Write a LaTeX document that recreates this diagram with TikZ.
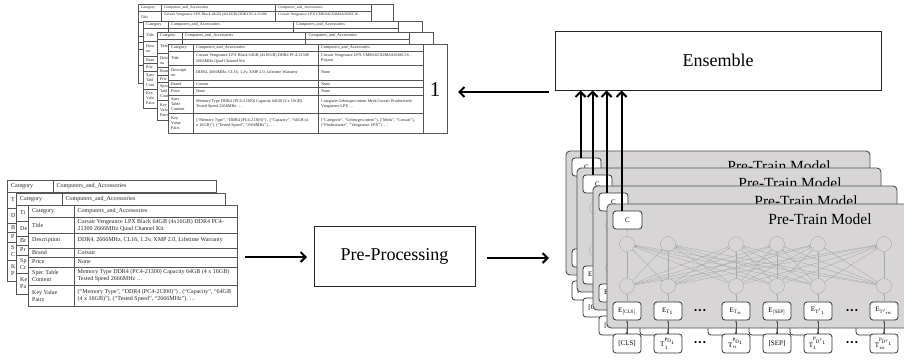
\documentclass[tikz,border=0pt]{standalone}
\usepackage{fontspec}
\setmainfont{Liberation Serif}
\usetikzlibrary{arrows.meta}
\definecolor{panelgray}{HTML}{D8D5D7}
\definecolor{edgegray}{HTML}{4D4D4D}
\definecolor{rulegray}{HTML}{555555}
\definecolor{netgray}{HTML}{A9A9A9}
\tikzset{
  tabrule/.style={draw=rulegray, line width=0.5pt},
  tt/.style={anchor=west, align=left, inner sep=0pt, font=\fontsize{4.2}{5.1}\selectfont, text=black!85, transform shape},
  bt/.style={anchor=west, align=left, inner sep=0pt, font=\fontsize{6}{7}\selectfont, text=black!85},
  bigbox/.style={draw=black!85, line width=0.8pt, fill=white, font=\fontsize{18}{20}\selectfont},
  bigarrow/.style={line width=2.1pt, -{Straight Barb[length=5pt,width=10pt]}},
  panelbox/.style={draw=edgegray, line width=0.9pt, fill=panelgray, rounded corners=4pt, minimum width=304pt, minimum height=124pt, inner sep=0pt},
  pttitle/.style={font=\fontsize{15.5}{17}\selectfont, inner sep=0pt},
  cbox/.style={draw=black!80, line width=0.8pt, fill=white, rounded corners=3pt, minimum width=29pt, minimum height=18pt, inner sep=0pt, font=\fontsize{7}{8}\selectfont},
  ebox/.style={draw=black!80, line width=0.8pt, fill=white, rounded corners=3pt, minimum width=28pt, minimum height=18pt, inner sep=0pt, font=\fontsize{7}{8}\selectfont},
  tbox/.style={draw=black!80, line width=0.8pt, fill=white, rounded corners=3pt, minimum width=28pt, minimum height=19pt, inner sep=0pt, font=\fontsize{7}{8}\selectfont},
  neuron/.style={circle, draw=netgray, line width=0.4pt, minimum size=15pt, inner sep=0pt},
  conn/.style={draw=netgray, line width=0.35pt, -{Stealth[length=2pt,width=1.6pt]}},
  tokarrow/.style={draw=black!70, line width=0.4pt, -{Stealth[length=2.2pt,width=1.8pt]}},
  dotsnode/.style={inner sep=0pt, font=\fontsize{9}{9}\selectfont},
}
% ---------- top tables ----------
\newcommand\toplines{%
  \fill[white] (0,0) rectangle (279,89);
  \draw[tabrule] (0,0) rectangle (279,89);
  \foreach \yy in {7.7,21,36,43.3,51,69.3} \draw[tabrule] (0,\yy) -- (255,\yy);
  \foreach \xx in {25,150,255} \draw[tabrule] (\xx,0) -- (\xx,89);
}
\newcommand\tophead[1]{%
  \node[tt] (#1a1) at (3,3.85) {Category};
  \node[tt] (#1b1) at (28,3.85) {Computers\_and\_Accessories};
  \node[tt] (#1c1) at (153,3.85) {Computers\_and\_Accessories};
}
\newcommand\topstrip[1]{%
  \begin{scope}
    \clip (0,7.7) rectangle (11,89);
    \node[tt] (#1a2) at (3,14.35) {Title};
    \node[tt] (#1a3) at (3,28.5) {Desc\\on};
    \node[tt] (#1a4) at (3,39.65) {Bran};
    \node[tt] (#1a5) at (3,47.15) {Pric};
    \node[tt] (#1a6) at (3,60.15) {Spec\\Tabl\\Cont};
    \node[tt] (#1a7) at (3,79.15) {Key\\Valu\\Pairs};
  \end{scope}
}
\newcommand\topfull[1]{%
  \toplines
  \tophead{#1}
  \node[tt] (#1a2) at (3,14.35) {Title};
  \node[tt] (#1b2) at (28,14.35) {Corsair Vengeance LPX Black 64GB (4x16GB) DDR4 PC4-21300\\2666MHz Quad Channel Kit};
  \node[tt] (#1c2) at (153,14.35) {Corsair Vengeance LPX CMK64GX4M4A2666C16 -\\Prijzen};
  \node[tt] (#1a3) at (3,28.5) {Descripti\\on};
  \node[tt] (#1b3) at (28,28.5) {DDR4, 2666MHz, CL16, 1.2v, XMP 2.0, Lifetime Warranty};
  \node[tt] (#1c3) at (153,28.5) {None};
  \node[tt] (#1a4) at (3,39.65) {Brand};
  \node[tt] (#1b4) at (28,39.65) {Corsair};
  \node[tt] (#1c4) at (153,39.65) {None};
  \node[tt] (#1a5) at (3,47.15) {Price};
  \node[tt] (#1b5) at (28,47.15) {None};
  \node[tt] (#1c5) at (153,47.15) {None};
  \node[tt] (#1a6) at (3,60.15) {Spec\\Table\\Content};
  \node[tt] (#1b6) at (28,60.15) {Memory Type DDR4 (PC4-21300) Capacity 64GB (4 x 16GB)\\Tested Speed 2666MHz …};
  \node[tt] (#1c6) at (153,60.15) {Categorie Geheugen intern Merk Corsair Productserie\\Vengeance LPX …};
  \node[tt] (#1a7) at (3,79.15) {Key\\Value\\Pairs};
  \node[tt] (#1b7) at (28,79.15) {(“Memory Type”, “DDR4 (PC4-21300)”) , (“Capacity”, “64GB (4\\x 16GB)”), (“Tested Speed”, “2666MHz”), …};
  \node[tt] (#1c7) at (153,79.15) {(“Categorie”, “Geheugen intern”), (“Merk”, “Corsair”),\\(“Productserie”, “Vengeance LPX”), …};
  \node[inner sep=0pt, font=\fontsize{21}{21}\selectfont, transform shape] (#1one) at (267,46) {1};
}
% ---------- bottom tables ----------
\newcommand\botlines{%
  \fill[white] (0,0) rectangle (209,101);
  \draw[tabrule] (0,0) rectangle (209,101);
  \foreach \yy in {12,28,43,52,62,80} \draw[tabrule] (0,\yy) -- (209,\yy);
  \draw[tabrule] (46,0) -- (46,101);
}
\newcommand\bothead[1]{%
  \node[bt] (#1a1) at (4,6) {Category};
  \node[bt] (#1b1) at (49.5,6) {Computers\_and\_Accessories};
}
\newcommand\botfull[1]{%
  \botlines
  \bothead{#1}
  \node[bt] (#1a2) at (4,20) {Title};
  \node[bt] (#1b2) at (49.5,20) {Corsair Vengeance LPX Black 64GB (4x16GB) DDR4 PC4-\\21300 2666MHz Quad Channel Kit};
  \node[bt] (#1a3) at (4,35.5) {Description};
  \node[bt] (#1b3) at (49.5,35.5) {DDR4, 2666MHz, CL16, 1.2v, XMP 2.0, Lifetime Warranty};
  \node[bt] (#1a4) at (4,47.5) {Brand};
  \node[bt] (#1b4) at (49.5,47.5) {Corsair};
  \node[bt] (#1a5) at (4,57) {Price};
  \node[bt] (#1b5) at (49.5,57) {None};
  \node[bt] (#1a6) at (4,71) {Spec Table\\Content};
  \node[bt] (#1b6) at (49.5,71) {Memory Type DDR4 (PC4-21300) Capacity 64GB (4 x 16GB)\\Tested Speed 2666MHz …};
  \node[bt] (#1a7) at (4,90.5) {Key Value\\Pairs};
  \node[bt] (#1b7) at (49.5,90.5) {(“Memory Type”, “DDR4 (PC4-21300)”) , (“Capacity”, “64GB\\(4 x 16GB)”), (“Tested Speed”, “2666MHz”), …};
}
% ---------- pre-train panels ----------
\newcommand\ptpanel[4]{% prefix, dx, dy, 1 = front (all labels)
  \begin{scope}[shift={(#2,#3)}]
    \node[panelbox] (#1pan) at (759,266) {};
    \node[pttitle] (#1title) at (820,219) {Pre-Train Model};
    \node[cbox] (#1c) at (627.5,220) {C};
    \foreach \i/\x in {1/627,2/668,3/736,4/777,5/818,6/884} {
      \node[neuron] (#1u\i) at (\x,244) {};
      \node[neuron] (#1l\i) at (\x,286) {};
    }
    \foreach \i in {1,...,6} {\foreach \j in {1,...,6} {\draw[conn] (#1l\i) -- (#1u\j);}}
    \draw[conn] (#1u1) -- (#1c);
    \node[ebox] (#1e1) at (627,311) {E$_{[\mathrm{CLS}]}$};
    \node[tbox] (#1t1) at (627,343.5) {[CLS]};
    \ifnum#4=1
      \node[ebox] (#1e2) at (668,311) {E$_{\mathrm{T}_1}$};
      \node[ebox] (#1e3) at (736,311) {E$_{\mathrm{T}_n}$};
      \node[ebox] (#1e4) at (777,311) {E$_{[\mathrm{SEP}]}$};
      \node[ebox] (#1e5) at (818,311) {E$_{\mathrm{T'}_1}$};
      \node[ebox] (#1e6) at (884,311) {E$_{\mathrm{T'}_m}$};
      \node[dotsnode] (#1d1) at (700,311) {•\hspace{1.2pt}•\hspace{1.2pt}•};
      \node[dotsnode] (#1d2) at (852,311) {•\hspace{1.2pt}•\hspace{1.2pt}•};
      \node[tbox] (#1t2) at (668,343.5) {$\mathrm{T}_1^{\mathrm{P}_{\mathrm{D}_1}}$};
      \node[tbox] (#1t3) at (736,343.5) {$\mathrm{T}_n^{\mathrm{P}_{\mathrm{D}_1}}$};
      \node[tbox] (#1t4) at (777,343.5) {[SEP]};
      \node[tbox] (#1t5) at (818,343.5) {$\mathrm{T}_1^{\mathrm{P}_{\mathrm{D'}_1}}$};
      \node[tbox] (#1t6) at (884,343.5) {$\mathrm{T}_m^{\mathrm{P}_{\mathrm{D'}_1}}$};
      \node[dotsnode] (#1d3) at (700,343.5) {•\hspace{1.2pt}•\hspace{1.2pt}•};
      \node[dotsnode] (#1d4) at (852,343.5) {•\hspace{1.2pt}•\hspace{1.2pt}•};
    \else
      \foreach \i/\x in {2/668,3/736,4/777,5/818,6/884} {
        \node[ebox] (#1e\i) at (\x,311) {};
        \node[tbox] (#1t\i) at (\x,343.5) {};
      }
    \fi
    \foreach \i in {1,...,6} {
      \draw[tokarrow] (#1t\i) -- (#1e\i);
      \draw[conn] (#1e\i) -- (#1l\i);
    }
  \end{scope}
}
\begin{document}
\begin{tikzpicture}[x=1pt,y=-1pt]
\useasboundingbox (0,0) rectangle (904,360);
\clip (0,0) rectangle (904,360);
\fill[white] (0,0) rectangle (904,360);
% top table stack
\begin{scope}[shift={(138,4)}, xscale=0.914, yscale=0.89]
  \toplines \tophead{ta}
  \node[tt] (taa2) at (3,14.35) {Title};
  \node[tt] (tab2) at (28,11.8) {Corsair Vengeance LPX Black 64GB (4x16GB) DDR4 PC4-21300};
  \node[tt] (tac2) at (153,11.8) {Corsair Vengeance LPX CMK64GX4M4A2666C16 -};
\end{scope}
\begin{scope}[shift={(143,21)}, xscale=1, yscale=0.98]
  \toplines \tophead{tb} \topstrip{tb}
\end{scope}
\begin{scope}[shift={(157,32)}, xscale=0.99, yscale=0.99]
  \toplines \tophead{tc} \topstrip{tc}
\end{scope}
\begin{scope}[shift={(168,44)}]\topfull{td}\end{scope}
% bottom table stack
\begin{scope}[shift={(7,180)}]
  \botlines \bothead{ba}
  \begin{scope}
    \clip (0,12) rectangle (9,101);
    \node[bt] (baa2) at (4,20) {T};
    \node[bt] (baa3) at (4,35.5) {D};
    \node[bt] (baa4) at (4,47.5) {B};
    \node[bt] (baa5) at (4,57) {P};
    \node[bt] (baa6) at (4,71) {S\\C};
    \node[bt] (baa7) at (4,90.5) {K\\P};
  \end{scope}
\end{scope}
\begin{scope}[shift={(16,193)}]
  \botlines \bothead{bb}
  \begin{scope}
    \clip (0,12) rectangle (12,101);
    \node[bt] (bba2) at (4,20) {Ti};
    \node[bt] (bba3) at (4,35.5) {De};
    \node[bt] (bba4) at (4,47.5) {Br};
    \node[bt] (bba5) at (4,57) {Pr};
    \node[bt] (bba6) at (4,71) {Sp\\Cr};
    \node[bt] (bba7) at (4,90.5) {Ke\\Pa};
  \end{scope}
\end{scope}
\begin{scope}[shift={(28,205)}]\botfull{bc}\end{scope}
% boxes
\node[bigbox, minimum width=161pt, minimum height=60pt] (pp) at (394.5,256) {Pre-Processing};
\node[bigbox, minimum width=326pt, minimum height=59pt] (ens) at (718,60.5) {Ensemble};
% panels
\ptpanel{pa}{-41}{-53}{0}
\ptpanel{pb}{-30}{-36}{0}
\ptpanel{pc}{-14}{-18}{0}
\ptpanel{pd}{0}{0}{1}
% arrows
\coordinate (la1) at (245,257);
\coordinate (la2) at (307,257);
\coordinate (ra1) at (487,258);
\coordinate (ra2) at (549,258);
\coordinate (ta1) at (549,92);
\coordinate (ta2) at (458,92);
\draw[bigarrow] (la1) -- (la2);
\draw[bigarrow] (ra1) -- (ra2);
\draw[bigarrow] (ta1) -- (ta2);
\foreach \p/\dx in {pa/9,pb/10,pc/8,pd/9} {
  \draw[bigarrow] ([xshift=\dx pt]\p c.north west) -- ([xshift=\dx pt]\p c.north west |- ens.south);
}
\end{tikzpicture}
\end{document}
